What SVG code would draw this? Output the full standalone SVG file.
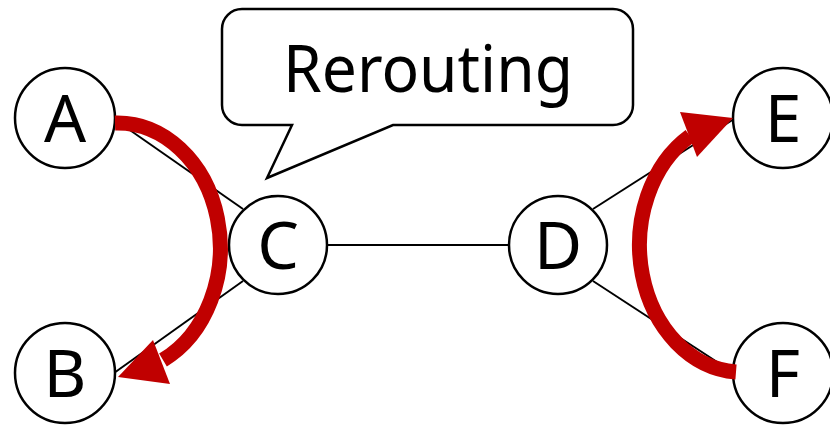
<svg xmlns="http://www.w3.org/2000/svg" width="830" height="426" viewBox="0 0 830 426">
  <style>
    .edge { stroke: #000; stroke-width: 2; fill: none; }
    .node circle { fill: #fff; stroke: #000; stroke-width: 2.5; }
    .node text { font-family: "Noto Sans", "Open Sans", sans-serif; font-size: 66px; text-anchor: middle; fill: #000; }
    .reroute { stroke: #C00000; stroke-width: 15; fill: none; }
    .head { fill: #C00000; }
  </style>

  <!-- links between nodes -->
  <g id="connectors">
    <line class="edge" x1="114" y1="119" x2="243" y2="209"/>
    <line class="edge" x1="114" y1="373" x2="243" y2="281"/>
    <line class="edge" x1="327" y1="245" x2="509" y2="245"/>
    <line class="edge" x1="593" y1="209" x2="734" y2="119"/>
    <line class="edge" x1="593" y1="281" x2="734" y2="373"/>
  </g>

  <!-- speech bubble -->
  <g id="callout">
    <path d="M242,9 H613 A20,20 0 0 1 633,29 V105 A20,20 0 0 1 613,125 H393 L267,178 L292,125 H242 A20,20 0 0 1 222,105 V29 A20,20 0 0 1 242,9 Z" fill="#fff" stroke="#000" stroke-width="2.5" stroke-linejoin="miter"/>
    <text x="428" y="92" font-family="Noto Sans, Open Sans, sans-serif" font-size="66" text-anchor="middle" textLength="290" lengthAdjust="spacingAndGlyphs">Rerouting</text>
  </g>

  <g id="node-A" class="node"><circle cx="65" cy="118" r="50"/><text x="65" y="142">A</text></g>
  <g id="node-B" class="node"><circle cx="65" cy="373" r="50"/><text x="65" y="397">B</text></g>
  <g id="node-C" class="node"><circle cx="278" cy="245" r="49"/><text x="278" y="269">C</text></g>
  <g id="node-D" class="node"><circle cx="558" cy="245" r="49"/><text x="558" y="269">D</text></g>
  <g id="node-E" class="node"><circle cx="783" cy="118" r="50"/><text x="783" y="142">E</text></g>
  <g id="node-F" class="node"><circle cx="783" cy="373" r="50"/><text x="783" y="397">F</text></g>

  <!-- rerouting arrows -->
  <g id="reroute-arrows">
    <path class="reroute" d="M115,123 A103,125 0 0 1 163,360"/>
    <polygon class="head" points="118,377 153,340 170,384"/>
    <path class="reroute" d="M736,372 A103,127 0 0 1 690,136"/>
    <polygon class="head" points="733,118 680,112 697,157"/>
  </g>
</svg>
